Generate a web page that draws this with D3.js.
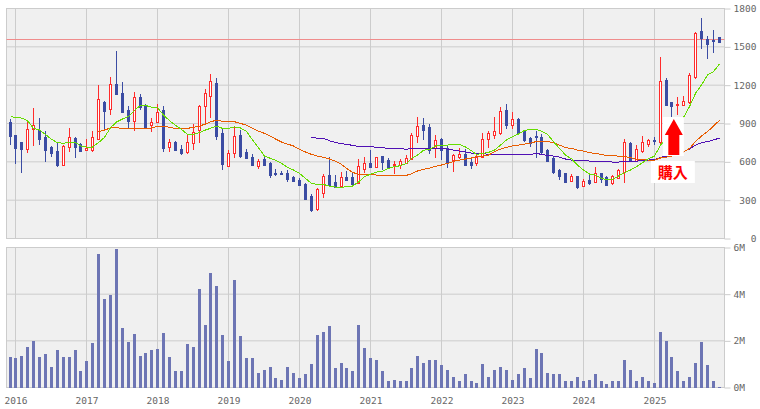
<!DOCTYPE html>
<html>
<head>
<meta charset="utf-8">
<style>
  body { margin: 0; background: #fff; }
  svg { display: block; }
  .tick text { font-family: "DejaVu Sans Mono", monospace; font-size: 9.5px; fill: #666; }
</style>
</head>
<body>
<svg id="chart"></svg>
<script src="https://cdn.jsdelivr.net/npm/d3@7"></script>
<script>
// monthly candles, Dec 2015 to Dec 2025
let open = [912,810,755,695,854,849,794,716,684,577,716,786,739,692,692,779,1069,1014,1210,1139,1006,920,1108,1045,888,912,1006,716,755,700,677,747,846,1037,1116,1217,826,567,669,810,677,637,567,622,590,512,512,512,481,457,426,332,230,355,496,442,410,481,481,434,543,590,559,645,614,575,575,590,622,802,888,873,708,779,708,614,637,661,598,590,637,779,810,826,1006,888,935,841,786,802,794,692,630,536,512,449,489,410,457,442,512,481,434,473,520,747,606,684,739,771,755,1241,1069,1045,1045,1069,1264,1625,1562,1554,1578];
let high = [933,810,755,917,1021,943,841,724,747,731,865,794,747,779,841,1202,1076,1264,1468,1225,1037,1147,1131,1053,943,1053,1037,779,763,731,818,896,1045,1170,1288,1257,857,692,880,849,700,661,622,645,598,543,525,536,489,473,434,347,394,504,637,496,520,528,520,622,637,692,637,645,630,606,622,653,826,951,943,896,810,786,724,661,708,700,637,653,826,841,951,1029,1053,990,943,849,794,841,818,700,637,543,512,504,489,465,496,559,512,489,496,543,779,755,731,802,779,794,1421,1257,1069,1108,1116,1296,1617,1727,1586,1633,1578];
let low = [731,583,512,671,724,731,598,637,559,577,677,630,677,692,677,779,841,967,1123,982,857,841,1006,865,833,904,677,677,684,653,661,692,747,896,943,771,536,567,630,630,630,567,543,575,473,489,494,442,442,418,308,206,214,316,410,402,410,449,426,426,512,551,559,536,559,504,543,583,622,747,771,661,630,614,551,520,622,567,543,567,630,708,779,810,857,857,810,755,716,630,653,598,504,457,434,442,387,410,418,434,434,418,418,473,434,606,606,669,716,731,739,1045,951,967,1045,1053,1249,1484,1406,1453,1539];
let close = [802,708,700,854,886,779,692,669,575,724,794,716,684,708,794,1092,998,1210,1131,990,920,1108,1029,873,912,990,708,755,692,669,755,833,1037,1139,1233,802,583,669,802,645,630,575,606,575,496,504,504,465,449,418,308,222,387,489,418,402,481,457,426,567,590,559,637,598,559,583,606,630,810,880,849,692,771,692,598,653,661,575,575,637,779,826,841,998,888,935,826,771,747,794,677,606,520,489,442,489,402,449,434,512,465,418,489,536,755,606,700,755,771,763,1233,1045,1037,1053,1076,1280,1609,1570,1523,1549,1539];

// moving averages, null where the line has not started yet
let maShort = [954,948,943,922,862,849,815,776,750,745,752,752,724,716,716,750,792,867,912,935,956,1003,1042,1042,1027,1024,967,922,886,854,815,815,828,849,862,880,862,862,873,865,839,771,711,645,627,614,588,556,536,509,470,431,423,423,410,402,400,405,410,442,483,504,520,525,549,562,570,588,627,653,690,698,724,729,731,737,737,716,687,658,666,674,692,731,771,797,818,846,854,854,841,815,758,705,653,624,575,536,504,496,470,462,462,489,515,536,562,593,624,645,731,784,862,914,948,1032,1136,1202,1280,1306,1366];
let maMid = [null,null,null,null,null,null,null,null,null,null,null,null,null,null,null,836,849,865,870,857,857,862,862,862,865,878,878,870,862,862,862,870,880,896,914,925,917,917,914,901,886,862,839,823,799,779,755,739,724,698,677,658,645,635,622,606,580,549,517,504,504,504,496,494,494,494,494,494,507,528,541,551,564,575,588,603,614,622,630,640,645,653,679,700,713,724,731,739,745,760,760,758,750,731,711,705,692,684,671,666,658,650,648,645,643,632,622,617,614,614,630,637,645,661,677,705,758,802,836,880,925];
let maLong = [null,null,null,null,null,null,null,null,null,null,null,null,null,null,null,null,null,null,null,null,null,null,null,null,null,null,null,null,null,null,null,null,null,null,null,null,null,null,null,null,null,null,null,null,null,null,null,null,null,null,null,792,784,784,765,752,742,737,729,721,721,721,713,711,705,705,705,698,705,705,705,705,705,705,700,692,684,677,669,666,666,658,658,658,658,658,658,658,658,666,658,650,645,637,622,614,611,611,606,606,606,603,598,598,603,603,603,614,614,619,635,645,653,666,679,700,731,750,758,771,786];

// volume in millions of shares
let volume = [1.29,1.25,1.33,1.72,1.98,1.29,1.42,0.90,1.59,1.29,1.29,1.59,0.69,1.12,1.89,5.71,3.78,3.95,5.93,2.53,1.93,2.28,1.33,1.50,1.59,1.63,2.32,1.29,0.69,0.69,1.85,1.72,4.21,2.66,4.90,4.34,2.23,1.12,4.60,2.19,1.25,1.25,0.64,0.77,0.86,0.39,0.34,0.90,0.64,0.39,0.60,0.99,2.23,2.36,2.62,0.82,1.07,0.82,0.69,2.66,1.68,1.25,1.20,0.69,0.30,0.34,0.30,0.30,0.82,1.37,1.03,1.20,1.20,0.95,0.73,0.47,0.30,0.56,0.26,0.21,0.99,0.43,0.77,0.90,0.77,0.34,0.60,0.82,0.39,1.63,1.46,0.64,0.56,0.56,0.30,0.26,0.47,0.26,0.34,0.60,0.26,0.17,0.26,0.26,1.20,0.77,0.30,0.47,0.30,0.21,2.36,1.98,1.29,0.69,0.26,0.47,1.03,1.93,0.95,0.30,0.04];

let years = [2016,2017,2018,2019,2020,2021,2022,2023,2024,2025];
let priceTicks = [0,300,600,900,1200,1500,1800];
let volumeTicks = [0,2,4,6];
let refPrice = 1558;
let buyLabel = '購入';
let buyMonth = 112.4;

let width = 760;
let height = 409;

let left = 6.5;
let right = 724.5;
let grid = '#ccc';
let red = '#ff2b2b';
let blue = '#3b4ca3';

let svg = d3.select('#chart')
            .attr('width', width)
            .attr('height', height);

let months = d3.range(open.length);

// index 1 is Jan 2016, index 109 is Jan 2025
let xScale = d3.scaleLinear().domain([1, 109]).range([15.45, 653.73]);
let xPos = (i) => Math.round(xScale(i)) + 0.5;

let yPrice = d3.scaleLinear().domain([0, 1800]).range([238.5, 8.5]);
let yVolume = d3.scaleLinear().domain([0, 6]).range([387.5, 247.5]);

let yearIndex = (y) => 1 + (y - 2016) * 12;

let drawPanel = (yScale, ticks) => {
    let top = yScale.range()[1];
    let bottom = yScale.range()[0];

    svg.append('rect')
       .attr('x', left)
       .attr('y', top)
       .attr('width', right - left)
       .attr('height', bottom - top)
       .attr('fill', '#f0f0f0');

    svg.append('g')
       .selectAll('line')
       .data(ticks)
       .enter()
       .append('line')
       .attr('x1', left)
       .attr('x2', right)
       .attr('y1', d => yScale(d))
       .attr('y2', d => yScale(d))
       .attr('stroke', grid);

    svg.append('g')
       .selectAll('line')
       .data(years)
       .enter()
       .append('line')
       .attr('x1', d => xPos(yearIndex(d)))
       .attr('x2', d => xPos(yearIndex(d)))
       .attr('y1', top)
       .attr('y2', bottom)
       .attr('stroke', grid);

    svg.append('rect')
       .attr('x', left)
       .attr('y', top)
       .attr('width', right - left)
       .attr('height', bottom - top)
       .attr('fill', 'none')
       .attr('stroke', grid);
};

let drawRightAxis = (yScale, ticks, format, anchorEnd) => {
    let axis = d3.axisRight(yScale)
                 .tickValues(ticks)
                 .tickSize(6)
                 .tickFormat(format);

    let g = svg.append('g')
               .attr('transform', `translate(${right}, 0)`)
               .call(axis);

    g.select('.domain').remove();
    g.selectAll('line').attr('stroke', grid);
    if (anchorEnd) {
        g.selectAll('text')
         .attr('x', 32)
         .attr('text-anchor', 'end');
    } else {
        g.selectAll('text').attr('x', 9);
    }
};

let drawYearAxis = () => {
    let axis = d3.axisBottom(d3.scaleLinear().domain([0, width]).range([0, width]))
                 .tickValues(years.map(d => xPos(yearIndex(d))))
                 .tickSize(0)
                 .tickPadding(10)
                 .tickFormat((d, i) => years[i]);

    let g = svg.append('g')
               .attr('transform', `translate(0, ${yVolume(0)})`)
               .call(axis);

    g.select('.domain').remove();
};

let drawCandles = () => {
    let candles = svg.append('g')
                     .selectAll('g')
                     .data(months)
                     .enter()
                     .append('g')
                     .attr('shape-rendering', 'crispEdges');

    candles.append('line')
           .attr('x1', i => xPos(i))
           .attr('x2', i => xPos(i))
           .attr('y1', i => yPrice(high[i]))
           .attr('y2', i => yPrice(low[i]))
           .attr('stroke', i => close[i] >= open[i] ? red : blue);

    candles.append('rect')
           .attr('x', i => xPos(i) - 1)
           .attr('y', i => Math.round(yPrice(Math.max(open[i], close[i]))) + 0.5)
           .attr('width', 2)
           .attr('height', i => Math.max(1, Math.round(Math.abs(yPrice(open[i]) - yPrice(close[i])))))
           .attr('fill', i => close[i] >= open[i] ? '#fff' : blue)
           .attr('stroke', i => close[i] >= open[i] ? red : blue);
};

let drawAverage = (values, color) => {
    let line = d3.line()
                 .defined(d => d !== null)
                 .x((d, i) => xPos(i))
                 .y(d => yPrice(d));

    svg.append('path')
       .datum(values)
       .attr('d', line)
       .attr('fill', 'none')
       .attr('stroke', color)
       .attr('shape-rendering', 'crispEdges');
};

let drawVolume = () => {
    svg.append('g')
       .selectAll('rect')
       .data(volume)
       .enter()
       .append('rect')
       .attr('x', (d, i) => xPos(i) - 1.5)
       .attr('y', d => yVolume(d))
       .attr('width', 3)
       .attr('height', d => yVolume(0) - yVolume(d))
       .attr('fill', '#6d75b4')
       .attr('shape-rendering', 'crispEdges');
};

// pasted-on arrow and label, white boxes hide the chart below them
let drawBuyMark = () => {
    let cx = xScale(buyMonth);
    let g = svg.append('g');

    g.append('rect')
     .attr('x', cx - 11)
     .attr('y', 117)
     .attr('width', 21)
     .attr('height', 39)
     .attr('fill', '#fff');

    g.append('rect')
     .attr('x', cx - 23)
     .attr('y', 161)
     .attr('width', 44)
     .attr('height', 22)
     .attr('fill', '#fff');

    let arrow = [[0, 119], [9, 135], [5.5, 135], [5.5, 155], [-5.5, 155], [-5.5, 135], [-9, 135]];

    g.append('polygon')
     .attr('points', arrow.map(p => `${cx + p[0]},${p[1]}`).join(' '))
     .attr('fill', '#f00');

    g.append('text')
     .attr('x', cx - 1)
     .attr('y', 178)
     .attr('text-anchor', 'middle')
     .attr('font-family', '"Noto Sans CJK JP"')
     .attr('font-weight', 700)
     .attr('font-size', 15)
     .attr('fill', '#f00')
     .text(buyLabel);
};

drawPanel(yPrice, priceTicks);
drawPanel(yVolume, volumeTicks);

svg.append('line')
   .attr('x1', left)
   .attr('x2', right)
   .attr('y1', Math.round(yPrice(refPrice)) + 0.5)
   .attr('y2', Math.round(yPrice(refPrice)) + 0.5)
   .attr('stroke', '#f08c8c');

drawCandles();
drawAverage(maLong, '#5010b4');
drawAverage(maMid, '#e85c00');
drawAverage(maShort, '#66dd00');
drawVolume();
drawBuyMark();

drawRightAxis(yPrice, priceTicks, d3.format('d'), true);
drawRightAxis(yVolume, volumeTicks, d => d + 'M', false);
drawYearAxis();
</script>
</body>
</html>
